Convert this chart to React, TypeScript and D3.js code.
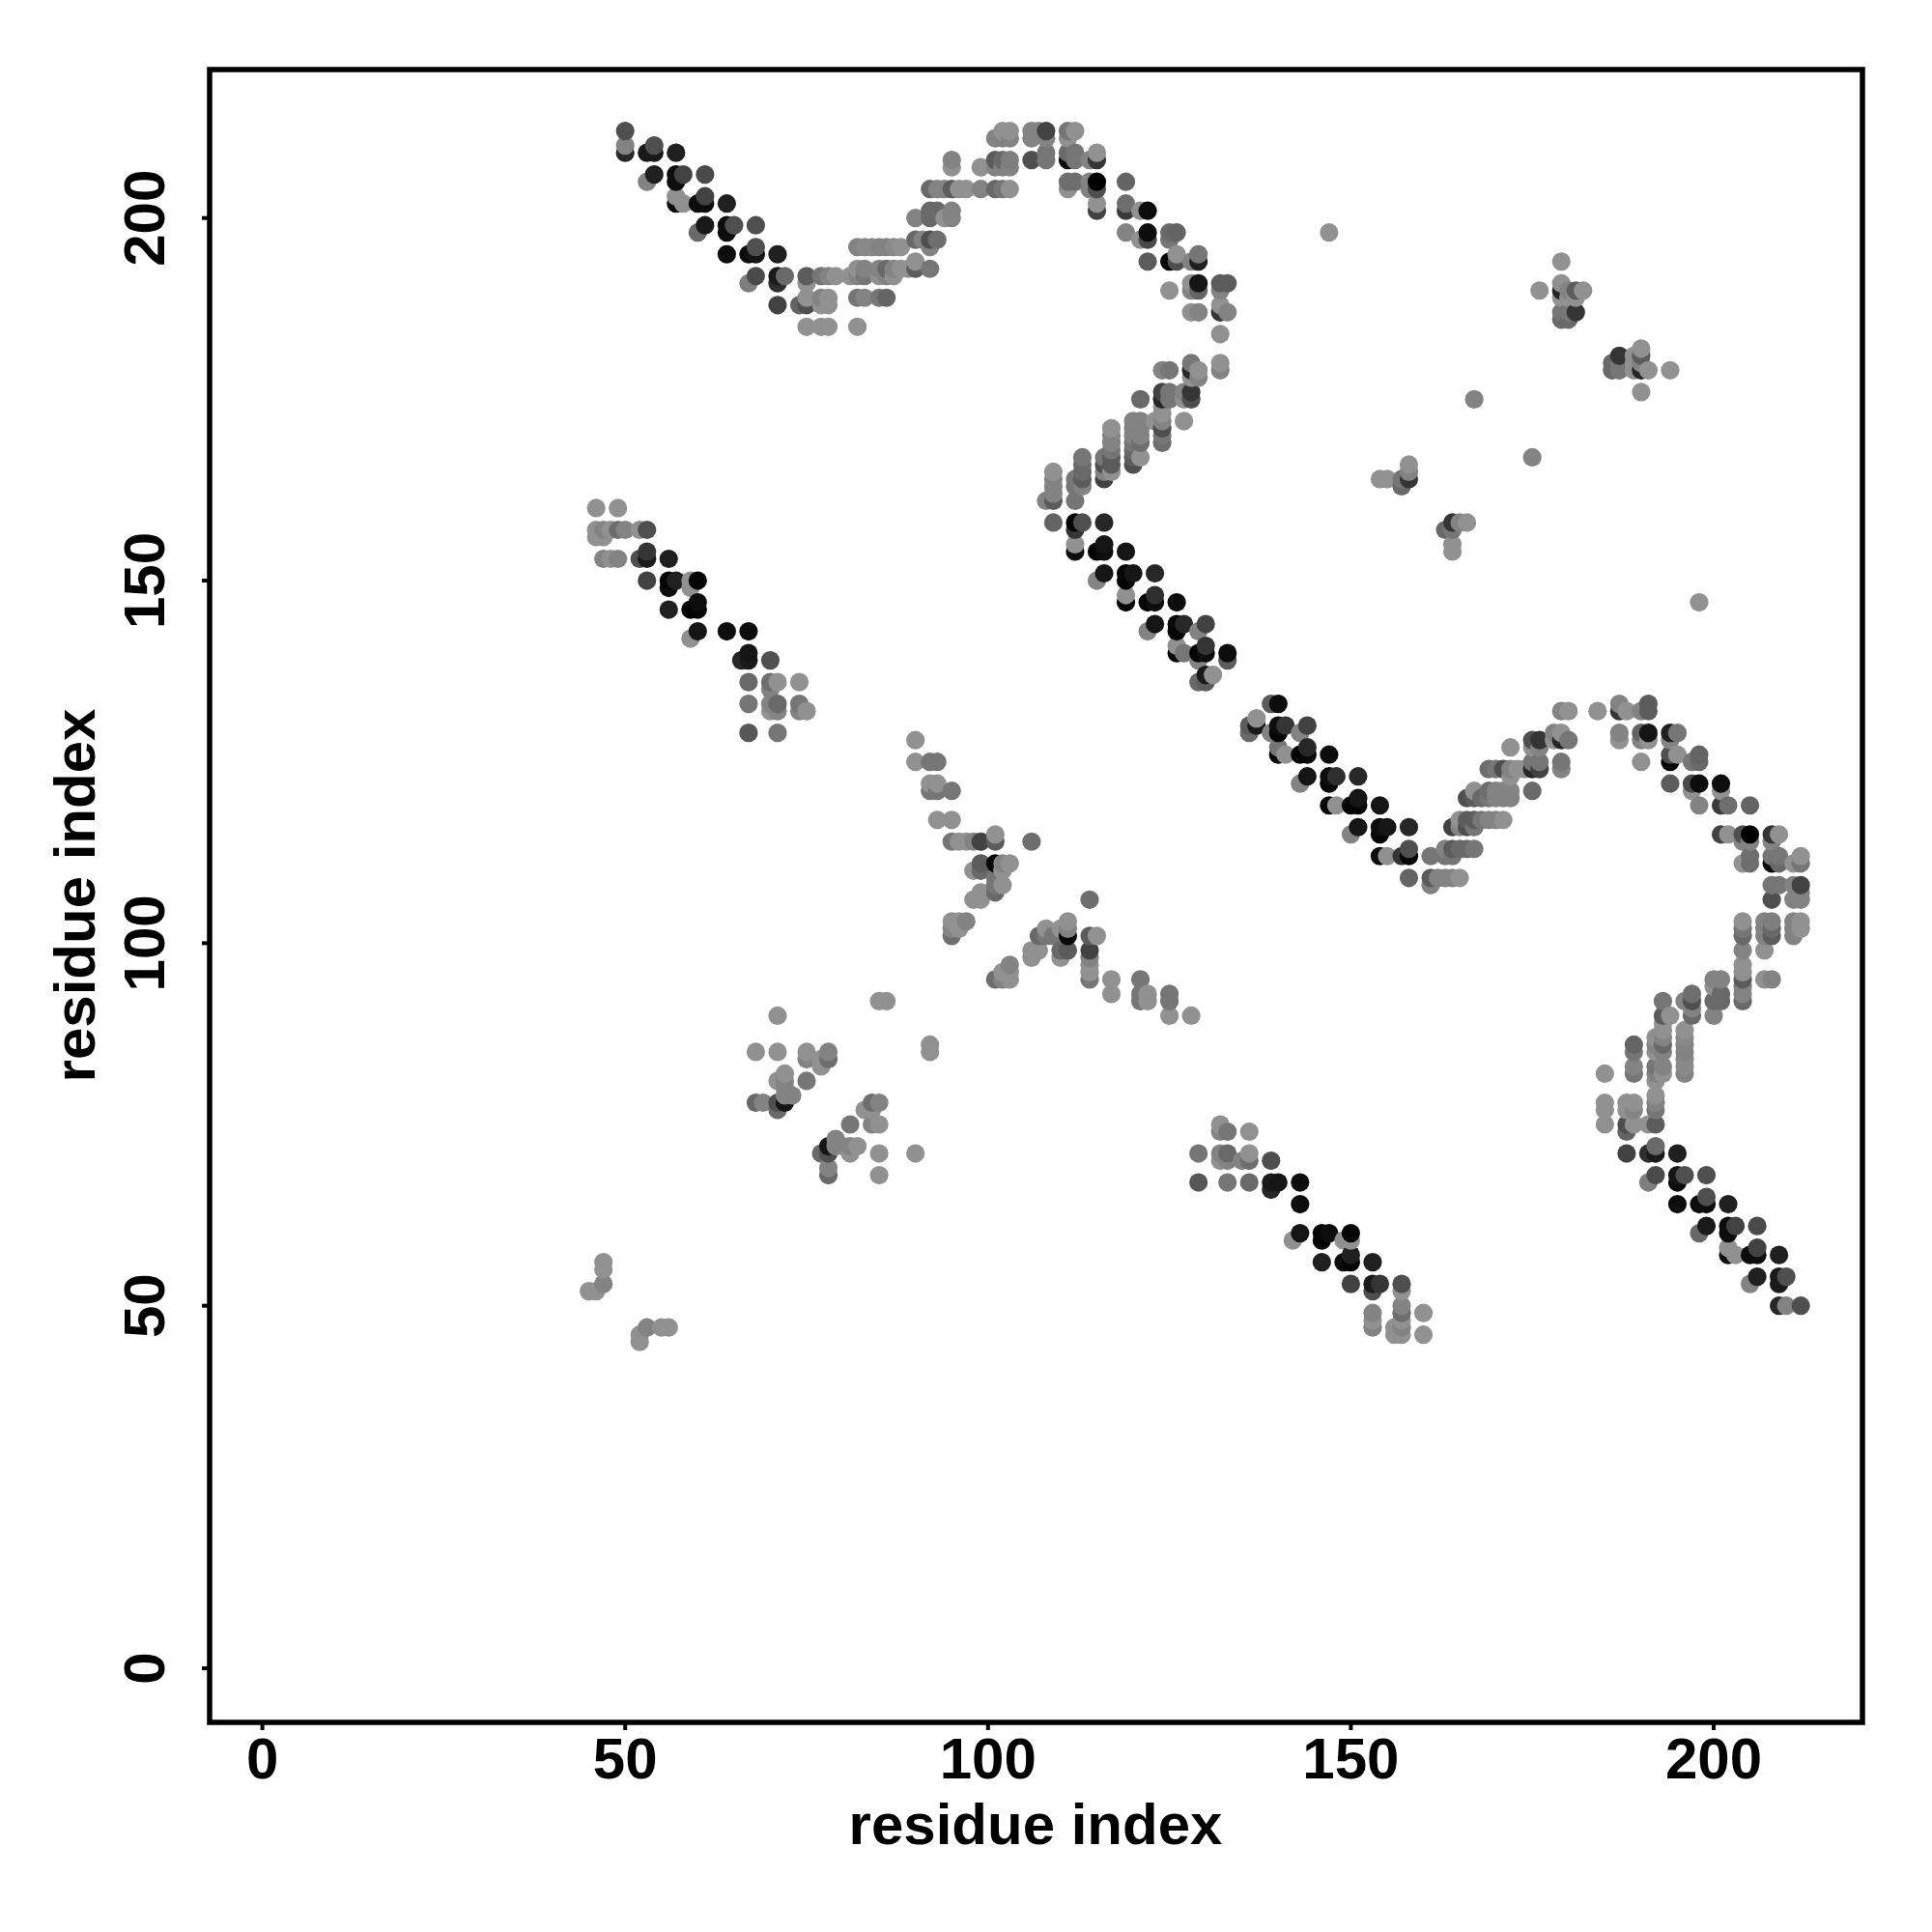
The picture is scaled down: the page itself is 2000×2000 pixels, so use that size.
import React from "react";
import * as d3 from "d3";

type Contact = [number, number, number];

// Each contact: [residue i, residue j, gray level]; the map is symmetric, i < j listed.
const longArcStart: Contact[] = [
  [50,212,.3],[50,210,.5],[50,209,.15],[53,209,.1],[54,210,.3],[54,209,.1],[57,209,.12],[54,206,.12],[53,205,.5],
  [57,206,.05],[57,205,.05],[58,206,.25],[61,206,.28],[57,203,.55],[57,202,.05],[58,202,.55],[60,202,.05],[61,202,.05],
  [61,203,.25],[64,202,.12],[61,199,.1],[60,198,.4],[64,199,.05],[64,198,.05],[65,199,.3],[68,199,.3],[64,195,.05],
  [67,195,.05],[68,195,.08],[68,196,.3],[71,195,.12],[68,192,.28],[67,191,.48],[71,192,.1],[71,191,.18],[72,192,.4],
  [75,192,.35],[77,192,.45],[78,192,.5],[79,192,.55],[75,191,.55],[71,188,.25],[74,188,.38],[75,189,.55],[75,188,.3],
  [77,189,.5],[78,189,.55],[77,188,.55],[78,188,.55],[75,185,.55],[77,185,.55],[78,185,.55],[82,185,.55],
  [82,196,.5],[83,196,.52],[84,196,.52],[85,196,.5],[86,196,.5],[87,196,.52],[88,196,.55],
  [82,193,.55],[83,193,.5],[85,193,.5],[86,193,.4],[87,193,.5],[88,193,.55],[89,193,.55],
  [81,192,.55],[82,192,.5],[83,192,.45],[85,192,.55],[86,192,.5],[87,192,.55],
  [82,189,.45],[83,189,.5],[85,189,.45],[86,189,.38],
];

const longArcTop: Contact[] = [
  [90,200,.5],[90,197,.4],[91,197,.5],[92,197,.3],[93,197,.42],[92,196,.5],[90,194,.55],[90,193,.35],[92,193,.45],
  [92,201,.4],[92,200,.4],[93,201,.4],[94,200,.55],[95,201,.5],[95,200,.5],
  [92,204,.4],[93,204,.5],[94,204,.5],[95,204,.35],[96,204,.55],[97,204,.55],[99,204,.5],[101,204,.4],[102,204,.45],[103,204,.55],
  [95,208,.5],[95,207,.55],[99,207,.55],[101,208,.35],[102,208,.4],[103,208,.48],[101,207,.5],[102,207,.5],[103,207,.5],
  [102,212,.55],[103,212,.55],[101,211,.5],[102,211,.5],[103,211,.5],
  [106,212,.5],[106,211,.5],[107,212,.5],[108,212,.25],[108,211,.5],[106,208,.3],[108,209,.45],[108,208,.45],
  [111,212,.45],[112,212,.55],[111,211,.55],[111,209,.4],[112,209,.45],[111,208,.05],[112,208,.45],[114,208,.5],[115,209,.55],[115,208,.2],
  [111,205,.42],[112,205,.42],[114,205,.5],[115,205,0],[111,204,.55],[114,204,.5],[115,204,.3],[115,202,.55],[115,201,.25],
  [119,205,.38],[119,202,.42],[119,201,.22],[121,201,.55],[122,201,.05],[119,198,.5],[121,197,.55],[122,198,.05],[122,197,.28],
  [122,194,.35],[125,198,.4],[126,198,.38],[125,197,.45],[125,194,.02],[126,195,.55],[126,194,.3],[128,194,.5],[129,195,.45],[129,194,.12],
  [125,190,.55],[128,191,.55],[128,190,.5],[129,191,.08],[129,190,.38],[132,191,.35],[133,191,.35],[132,190,.5],
  [128,187,.55],[129,187,.5],[132,188,.55],[132,187,.2],[133,187,.5],[132,184,.55],
];

const longArcDescent: Contact[] = [
  [132,180,.55],[132,179,.5],[124,179,.5],[125,179,.45],[128,180,.45],[128,179,.15],[129,179,.55],[128,178,.55],[129,178,.5],
  [121,175,.4],[124,176,.25],[124,175,.15],[125,176,.45],[125,175,.45],[127,176,.5],[127,175,.55],[128,176,.2],[128,175,.3],[127,172,.55],
  [124,174,.55],[124,173,.55],[124,172,.5],[124,171,.3],[124,170,.45],[124,169,.42],[123,172,.55],
  [120,172,.5],[120,171,.5],[120,170,.5],[120,169,.45],[120,168,.4],[120,167,.35],[120,166,.3],
  [121,172,.5],[121,171,.5],[121,170,.5],[121,169,.42],[121,167,.55],
  [117,171,.55],[117,170,.5],[117,169,.5],[117,168,.45],[117,167,.35],[117,166,.35],[117,165,.55],
  [116,167,.45],[116,166,.3],[116,165,.5],[116,164,.25],
  [113,167,.45],[113,166,.4],[113,165,.4],[113,164,.35],[113,163,.5],[112,164,.45],[112,163,.45],[112,161,.45],
  [109,165,.55],[109,164,.5],[109,163,.5],[109,162,.5],[109,161,.35],[108,161,.5],
  [109,158,.38],[112,158,.02],[113,158,.3],[116,158,.15],[112,157,.2],[112,155,.55],[112,154,.05],[115,154,.02],[116,155,.08],[116,154,.05],[119,154,.08],
  [116,151,.08],[115,150,.5],[119,151,.02],[120,151,.08],[119,150,.02],[123,151,.15],
  [119,148,.55],[119,147,.02],[122,147,.02],[123,147,.05],[123,148,.18],[126,147,.05],
  [123,144,.08],[122,143,.5],[126,144,.02],[126,143,.02],[127,144,.15],[130,144,.25],[129,143,.5],
  [126,141,.55],[126,140,.02],[127,140,.45],[129,140,.02],[130,140,.05],[130,141,.2],[129,139,.5],[133,140,.05],[133,139,.35],
  [130,137,.1],[131,137,.55],[129,136,.4],[130,136,.35],
];

const innerSheet: Contact[] = [
  [46,160,.55],[49,160,.55],[46,157,.55],[47,157,.5],[48,157,.55],[49,157,.42],[50,157,.5],[52,157,.55],[53,157,.3],[46,156,.55],[47,156,.55],
  [47,153,.5],[48,153,.55],[49,153,.5],[52,153,.3],[53,153,.1],[53,154,.2],[56,153,.12],
  [53,150,.25],[56,150,.02],[57,150,.12],[59,150,.55],[60,150,.02],[56,149,.05],[59,149,.55],
  [56,146,.12],[59,146,.02],[60,146,.02],[60,147,.05],[60,143,.08],[59,142,.55],[64,143,.05],[67,143,.05],
  [67,140,.08],[66,139,.15],[67,139,.1],[70,139,.3],
  [67,136,.4],[70,136,.42],[71,136,.55],[74,136,.55],[70,135,.5],
  [67,133,.45],[70,133,.5],[71,133,.4],[74,133,.45],[70,132,.55],[71,132,.5],[74,132,.5],[75,132,.55],
  [67,129,.33],[71,129,.45],
];

const middleCluster: Contact[] = [
  [90,128,.55],[90,125,.55],[92,125,.45],[93,125,.45],[92,122,.55],[93,122,.55],[92,121,.45],[93,121,.45],[95,121,.45],
  [93,117,.55],[95,117,.55],[95,114,.45],[96,114,.55],[97,114,.55],[98,114,.5],[99,114,.25],[101,114,.35],[101,115,.55],[106,114,.42],
  [99,111,.35],[101,111,.03],[102,111,.5],[103,111,.55],[98,110,.55],[99,110,.4],[102,110,.55],
  [101,109,.45],[101,108,.45],[102,108,.55],[99,107,.55],[101,107,.4],[98,106,.55],[99,106,.55],
  [95,103,.55],[96,103,.55],[97,103,.5],[95,102,.5],[96,102,.55],[95,101,.42],
];

const nearDiagonalBlobs: Contact[] = [
  [147,198,.55],[179,194,.55],[176,190,.55],[179,191,.55],[179,190,.15],[179,189,.55],[180,190,.5],[181,190,.35],[182,190,.55],
  [180,189,.55],[181,189,.55],[179,187,.45],[180,187,.45],[181,187,.2],[179,186,.4],[180,186,.4],
  [167,175,.5],[158,166,.55],[158,165,.5],[158,164,.2],[154,164,.55],[155,164,.55],[157,164,.45],[157,163,.4],
  [71,90,.55],[68,85,.55],[71,85,.55],[75,85,.55],[75,84,.5],[78,85,.5],[78,84,.42],[77,84,.55],[77,83,.55],
  [85,92,.55],[86,92,.55],[72,82,.55],[71,81,.55],[72,81,.5],[75,81,.45],[72,80,.5],[73,79,.5],[72,79,.5],
  [68,78,.4],[69,78,.5],[71,78,.3],[71,77,.4],[72,78,.08],
  [47,56,.55],[47,55,.55],[47,53,.5],[45,52,.55],[46,52,.55],
];

const xTicks = [0, 50, 100, 150, 200];
const yTicks = [0, 50, 100, 150, 200];
const axisLabel = "residue index";

const FONT = '"Liberation Sans", Arial, sans-serif';
const box = { left: 217, right: 1928, top: 72, bottom: 1783 };

export default function App() {
  const x = d3.scaleLinear().domain([0, 200]).range([271.6, 1774]);
  const y = d3.scaleLinear().domain([0, 200]).range([1727, 225.7]);
  const gray = d3.scaleLinear<string>().domain([0, 0.97]).range(["#000000", "#ffffff"]);

  const upper = [
    ...longArcStart, ...longArcTop, ...longArcDescent,
    ...innerSheet, ...middleCluster, ...nearDiagonalBlobs,
  ];
  const all: Contact[] = upper.flatMap(([i, j, g]) => [[i, j, g], [j, i, g]] as Contact[]);
  all.sort((a, b) => d3.ascending(a[0], b[0]) || d3.ascending(a[1], b[1]));

  return (
    <svg width={2000} height={2000} style={{ position: "absolute", left: 0, top: 0, background: "#fff" }} fontFamily={FONT} fontWeight="bold">
      {all.map(([i, j, g], k) => (
        <circle key={k} cx={x(i)} cy={y(j)} r={9.6} fill={gray(g)} />
      ))}
      <rect x={box.left} y={box.top} width={box.right - box.left} height={box.bottom - box.top} fill="none" stroke="#000" strokeWidth={5.5} />
      {xTicks.map((t) => (
        <g key={t}>
          <line x1={x(t)} x2={x(t)} y1={box.bottom} y2={box.bottom + 8} stroke="#000" strokeWidth={4} />
          <text x={x(t)} y={1841} fontSize={60} textAnchor="middle">{t}</text>
        </g>
      ))}
      {yTicks.map((t) => (
        <g key={t}>
          <line x1={box.left} x2={box.left - 8} y1={y(t)} y2={y(t)} stroke="#000" strokeWidth={4} />
          <text transform={`translate(170,${y(t)}) rotate(-90)`} fontSize={60} textAnchor="middle">{t}</text>
        </g>
      ))}
      <text x={1072} y={1909} fontSize={60} textAnchor="middle">{axisLabel}</text>
      <text transform="translate(98,927) rotate(-90)" fontSize={60} textAnchor="middle">{axisLabel}</text>
    </svg>
  );
}
